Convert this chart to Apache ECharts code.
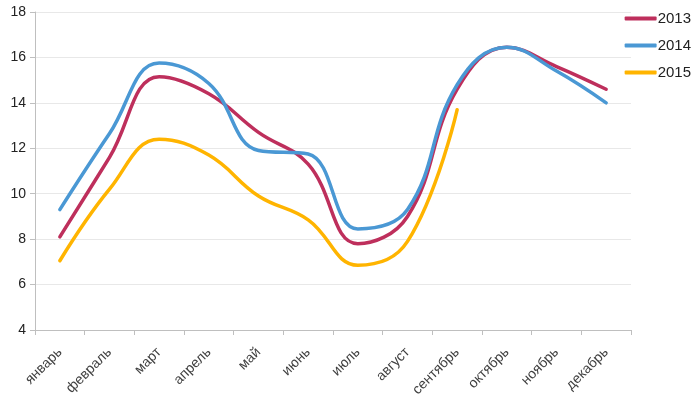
<!DOCTYPE html>
<html>
<head>
<meta charset="utf-8">
<script src="https://cdn.jsdelivr.net/npm/echarts@6/dist/echarts.min.js"></script>
<style>html,body{margin:0;padding:0;background:#fff}#c{width:700px;height:412px}</style>
</head>
<body>
<div id="c"></div>
<script>
var categories = ['январь','февраль','март','апрель','май','июнь','июль','август','сентябрь','октябрь','ноябрь','декабрь'];
var s2013 = [8.1, 11.6, 15.15, 14.4, 12.7, 11.3, 7.8, 9.0, 14.6, 16.45, 15.6, 14.6];
var s2014 = [9.3, 12.65, 15.75, 14.85, 11.9, 11.75, 8.45, 9.3, 14.8, 16.45, 15.4, 14.0];
var s2015 = [7.05, 10.2, 12.4, 11.7, 9.9, 8.85, 6.85, 7.9, 13.7, null, null, null];
var yTicks = {min: 4, max: 18, interval: 2};

var chart = echarts.init(document.getElementById('c'));
function mk(name, data, color) {
  return {
    name: name, type: 'line', data: data, smooth: 0.42, symbol: 'none',
    lineStyle: {width: 3.5, color: color, cap: 'round'}, itemStyle: {color: color}
  };
}
chart.setOption({
  animation: false,
  grid: {left: 35, right: 69, top: 12, bottom: 82},
  legend: {
    orient: 'vertical', right: 4, top: 6, itemWidth: 32, itemHeight: 4, itemGap: 12,
    icon: 'roundRect',
    textStyle: {fontFamily: 'Liberation Sans, Arial', fontSize: 15, color: '#222', padding: [0,0,0,-4]},
    data: ['2013','2014','2015']
  },
  xAxis: {
    type: 'category', data: categories, boundaryGap: true,
    axisLine: {lineStyle: {color: '#bfbfbf', width: 1}},
    axisTick: {show: true, length: 5, lineStyle: {color: '#bfbfbf'}},
    axisLabel: {rotate: 45, interval: 0, fontFamily: 'Liberation Sans, Arial', fontSize: 14, color: '#404040', margin: 20}
  },
  yAxis: {
    type: 'value', min: yTicks.min, max: yTicks.max, interval: yTicks.interval,
    axisLine: {show: true, lineStyle: {color: '#bfbfbf', width: 1}},
    axisTick: {show: true, length: 5, lineStyle: {color: '#bfbfbf'}},
    splitLine: {lineStyle: {color: '#e8e8e8'}},
    axisLabel: {fontFamily: 'Liberation Sans, Arial', fontSize: 14, color: '#222', margin: 9}
  },
  series: [
    mk('2013', s2013, '#be2f5c'),
    mk('2014', s2014, '#4a98d4'),
    mk('2015', s2015, '#ffb400')
  ]
});
</script>
</body>
</html>
